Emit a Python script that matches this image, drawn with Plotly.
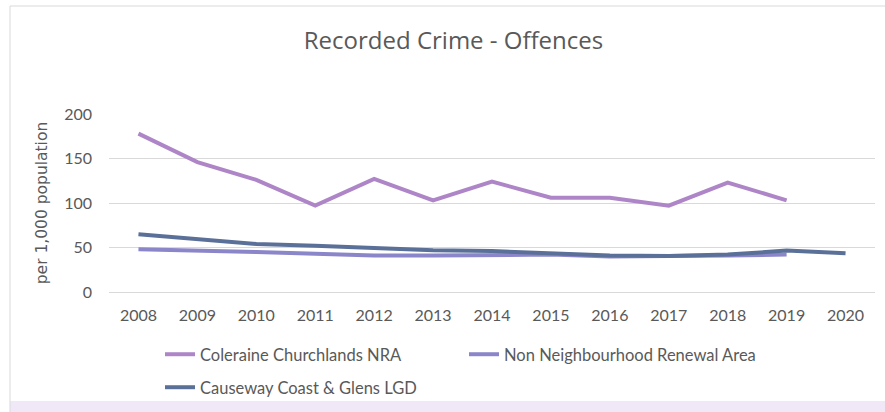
import plotly.graph_objects as go

years = [2008, 2009, 2010, 2011, 2012, 2013, 2014, 2015, 2016, 2017, 2018, 2019, 2020]
coleraine = [178, 146, 126, 97, 127, 103, 124, 106, 106, 97, 123, 103, None]
non_nra = [48, 47, 45, 43, 41, 41, 42, 42, 40, 40, 41, 42, None]
causeway = [65, 60, 54, 52, 49, 47, 46, 44, 41, 40.5, 42, 46.5, 43.5]
y_ticks = [0, 50, 100, 150, 200]

names = ["Coleraine Churchlands NRA", "Non Neighbourhood Renewal Area", "Causeway Coast & Glens LGD"]
colors = ["#AE86C8", "#8B86C9", "#5B7098"]

W, H = 885, 412
L, R, T, B = 109, 10, 114, 120
pw, ph = W - L - R, H - T - B

def px2x(p):
    return (p - L) / pw

def py2y(p):
    return (H - B - p) / ph

text_col = "#595959"
font_main = "Lato, 'Open Sans', sans-serif"

fig = go.Figure()
series = [coleraine, non_nra, causeway]
legends = ["legend", "legend2", "legend3"]
for name, vals, col, lg in zip(names, series, colors, legends):
    fig.add_trace(go.Scatter(
        x=[str(y) for y in years], y=vals, name=name, mode="lines",
        line=dict(color=col, width=4), legend=lg, connectgaps=False,
    ))

leg_common = dict(orientation="h", xanchor="left", yanchor="top",
                  font=dict(size=16.5, color=text_col, family=font_main),
                  bgcolor="rgba(0,0,0,0)", itemwidth=30)

fig.update_layout(
    width=W, height=H,
    margin=dict(l=L, r=R, t=T, b=B, autoexpand=False),
    paper_bgcolor="white", plot_bgcolor="white",
    font=dict(family=font_main, color=text_col, size=16),
    title=dict(text="Recorded Crime - Offences", x=453.5 / W, xanchor="center",
               y=1 - 41 / H, yanchor="middle", yref="container",
               font=dict(size=24, color=text_col, family="Open Sans, sans-serif")),
    xaxis=dict(type="category", range=[-0.5, 12.5], showgrid=False, showline=False,
               zeroline=False, ticks="", ticklabelstandoff=12,
               tickfont=dict(size=16, color=text_col)),
    yaxis=dict(range=[0, 200], tickvals=y_ticks, showgrid=True, gridcolor="#D9D9D9",
               gridwidth=1, zeroline=True, zerolinecolor="#D9D9D9", zerolinewidth=1,
               showline=False, ticks="", ticklabelstandoff=16,
               tickfont=dict(size=16, color=text_col),
               title=dict(text="per 1,000 population", standoff=12,
                          font=dict(size=15.5, color=text_col, family="DejaVu Sans, sans-serif"))),
    legend=dict(x=px2x(160), y=py2y(337), **leg_common),
    legend2=dict(x=px2x(464), y=py2y(337), **leg_common),
    legend3=dict(x=px2x(160), y=py2y(370), **leg_common),
    showlegend=True,
)

fig.add_shape(type="rect", xref="paper", yref="paper",
              x0=px2x(10), x1=px2x(895), y0=py2y(401), y1=py2y(420),
              fillcolor="#F1E8F7", line=dict(width=0), layer="below")
fig.add_shape(type="rect", xref="paper", yref="paper",
              x0=px2x(10), x1=px2x(895), y0=py2y(420), y1=py2y(6),
              fillcolor="rgba(0,0,0,0)", line=dict(color="#D9D9D9", width=1), layer="below")

fig.write_html("out.html", config={"displayModeBar": False},
               post_script="document.body.style.margin='0';document.body.style.overflow='hidden';")
